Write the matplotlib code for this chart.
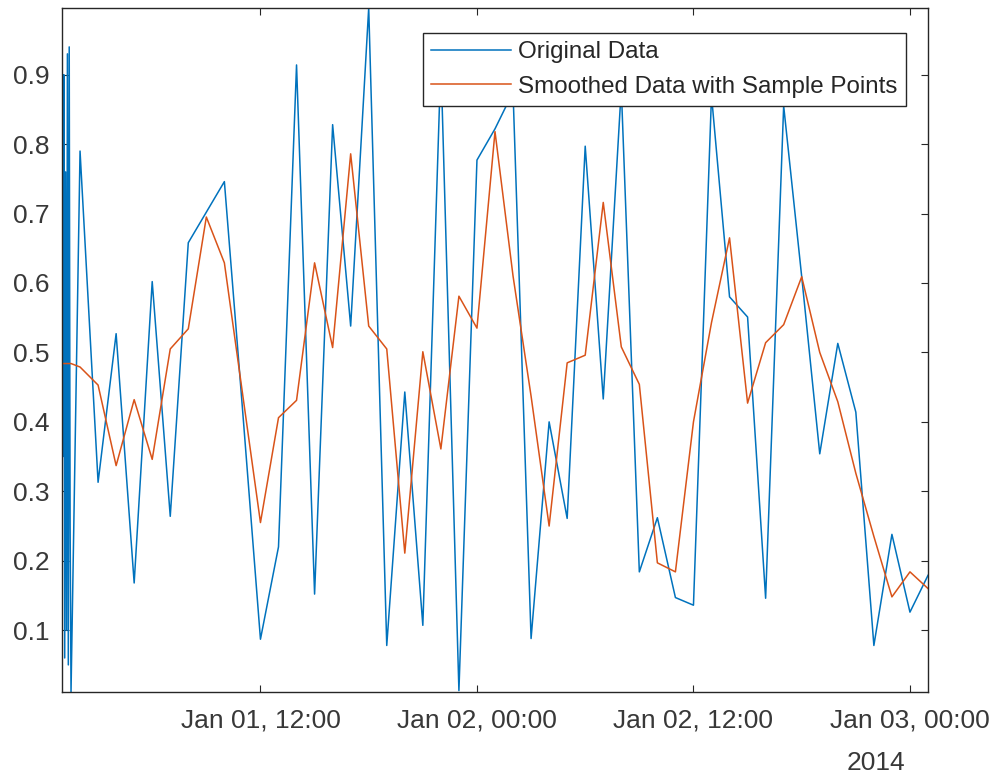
import numpy as np
import matplotlib.pyplot as plt
import matplotlib.dates as mdates
from matplotlib.ticker import FormatStrFormatter

plt.rcParams['font.family'] = ['Liberation Sans', 'DejaVu Sans']

# sample points, hours after 2014-01-01 00:00 (dense burst at the start, then hourly)
sample_hours = [1.00, 1.05, 1.10, 1.15, 1.20, 1.25, 1.30, 1.35, 1.40, 1.45, 1.50,
                2, 3, 4, 5, 6, 7, 8, 9, 10, 11, 12, 13, 14, 15, 16, 17, 18, 19, 20,
                21, 22, 23, 24, 25, 26, 27, 28, 29, 30, 31, 32, 33, 34, 35, 36, 37,
                38, 39, 40, 41, 42, 43, 44, 45, 46, 47, 48, 49]

original = [0.92, 0.35, 0.90, 0.06, 0.76, 0.10, 0.93, 0.05, 0.94, 0.25, 0.011,
            0.790, 0.313, 0.527, 0.168, 0.602, 0.264, 0.658, 0.702, 0.746, 0.420,
            0.087, 0.220, 0.914, 0.152, 0.828, 0.538, 0.996, 0.078, 0.443, 0.107,
            0.920, 0.013, 0.777, 0.822, 0.875, 0.088, 0.400, 0.261, 0.797, 0.433,
            0.880, 0.184, 0.262, 0.147, 0.136, 0.870, 0.580, 0.551, 0.146, 0.855,
            0.609, 0.354, 0.513, 0.414, 0.078, 0.238, 0.126, 0.179]

smoothed = [0.484, 0.484, 0.484, 0.484, 0.484, 0.484, 0.484, 0.484, 0.484, 0.484, 0.484,
            0.479, 0.453, 0.337, 0.432, 0.346, 0.505, 0.534, 0.695, 0.629, 0.442,
            0.255, 0.406, 0.431, 0.629, 0.507, 0.786, 0.538, 0.505, 0.211, 0.501,
            0.361, 0.581, 0.535, 0.818, 0.610, 0.437, 0.250, 0.485, 0.496, 0.716,
            0.508, 0.454, 0.197, 0.184, 0.400, 0.543, 0.665, 0.427, 0.514, 0.540,
            0.609, 0.500, 0.429, 0.326, 0.235, 0.148, 0.184, 0.160]

y_ticks = [0.1, 0.2, 0.3, 0.4, 0.5, 0.6, 0.7, 0.8, 0.9]

start = np.datetime64('2014-01-01T00:00:00')
t = start + (np.array(sample_hours) * 3600).astype('timedelta64[s]')

W, H = 997, 777
fig = plt.figure(figsize=(W / 100, H / 100), dpi=100)
ax = fig.add_axes([62 / W, 1 - 692 / H, (928 - 62) / W, (692 - 8) / H])

ax.plot(t, original, color='#0072BD', lw=1.1, label='Original Data')
ax.plot(t, smoothed, color='#D95319', lw=1.1, label='Smoothed Data with Sample Points')

ax.set_xlim(t[0], t[-1])
ax.set_ylim(min(original + smoothed), max(original + smoothed))

ax.xaxis.set_major_locator(mdates.HourLocator(byhour=[0, 12]))
ax.xaxis.set_major_formatter(mdates.DateFormatter('%b %d, %H:%M'))
ax.set_yticks(y_ticks)
ax.yaxis.set_major_formatter(FormatStrFormatter('%.1f'))

ax.tick_params(direction='in', length=5, width=0.8, top=True, right=True,
               labelsize=19, colors='0.15', labelcolor='0.22')
ax.tick_params(axis='x', pad=12)
ax.tick_params(axis='y', pad=9)
for s in ax.spines.values():
    s.set_color('0.15')
    s.set_linewidth(1.0)

leg = ax.legend(loc='upper right', bbox_to_anchor=(906 / W, 1 - 33 / H),
                bbox_transform=fig.transFigure, fontsize=17.4, fancybox=False,
                edgecolor='0.15', framealpha=1, borderaxespad=0, handlelength=3.3,
                handletextpad=0.3, borderpad=0.35, labelspacing=0.5)
leg.get_frame().set_linewidth(1.0)
for txt in leg.get_texts():
    txt.set_color('0.15')

fig.text(876 / W, 1 - 763 / H, '2014', ha='center', va='center',
         fontsize=19, color='0.22')

fig.savefig('out.png', dpi=100)
